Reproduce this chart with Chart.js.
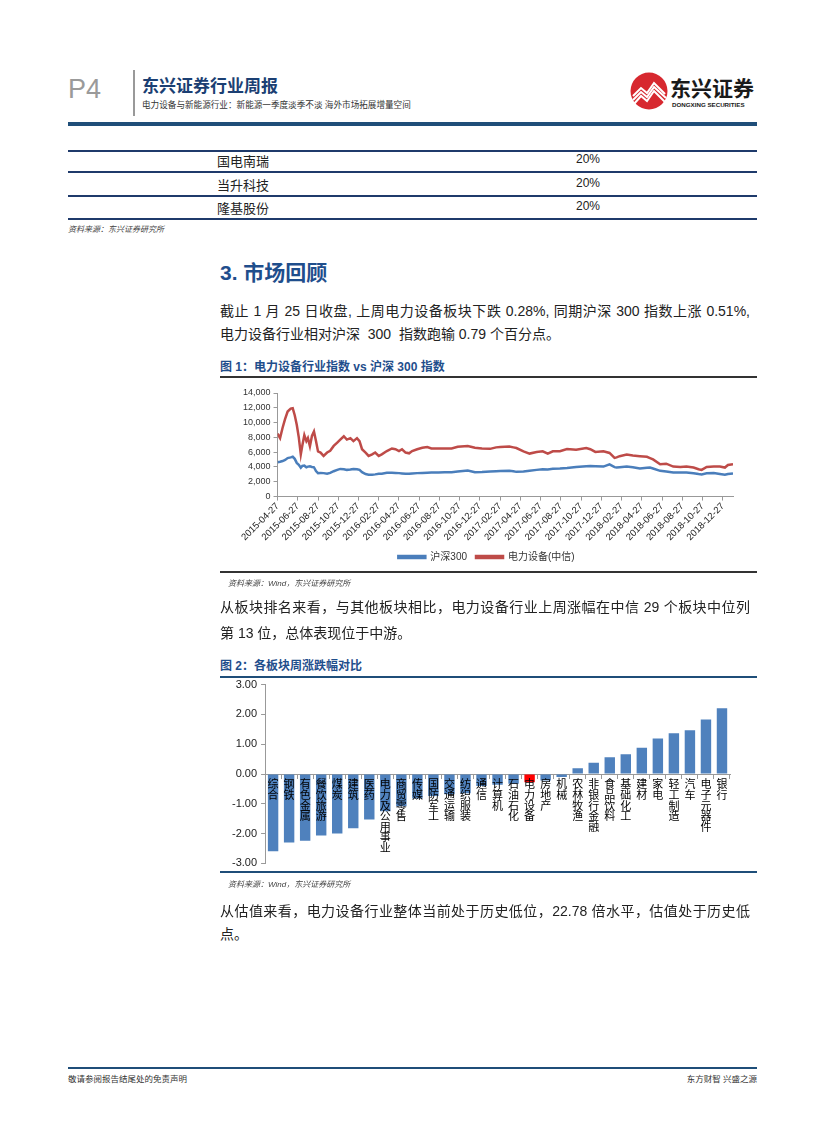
<!DOCTYPE html>
<html lang="zh-CN">
<head>
<meta charset="utf-8">
<title>东兴证券行业周报 P4</title>
<script src="https://cdn.jsdelivr.net/npm/chart.js@4.4.1/dist/chart.umd.min.js"></script>
<style>
  html, body { margin: 0; padding: 0; background: #fff; }
  body {
    width: 827px; height: 1122px; position: relative; overflow: hidden;
    font-family: "Liberation Sans", "Noto Sans CJK SC", sans-serif; color: #222;
  }
  .abs { position: absolute; white-space: nowrap; }
  .rule { position: absolute; }
  .src { font-size: 8px; font-style: italic; color: #444; }
  .para { font-size: 14px; color: #222; }
  .figtitle { font-size: 12px; font-weight: 700; color: #1F4E8C; }
  .cell { font-size: 13px; text-align: center; width: 200px; }
</style>
</head>
<body>

<!-- header -->
<div class="abs" style="left:68px;top:74px;font-size:27px;color:#9a9a9a;font-family:'Liberation Sans Narrow','Liberation Sans',sans-serif;">P4</div>
<div class="rule" style="left:133px;top:70px;width:2px;height:46px;background:#999;"></div>
<div class="abs" style="left:142px;top:72px;font-size:17px;font-weight:700;color:#1B3F73;">东兴证券行业周报</div>
<div class="abs" style="left:142px;top:98px;font-size:8.6px;color:#333;">电力设备与新能源行业：新能源一季度淡季不淡 海外市场拓展增量空间</div>
<svg class="abs" style="left:628px;top:70px" width="132" height="44" viewBox="0 0 132 44">
  <circle cx="21" cy="21" r="18.5" fill="#D7282F"/>
  <path d="M5 26 L13 18 L19 23 L26 13 L37 24" stroke="#fff" stroke-width="2" fill="none"/>
  <path d="M5 30 L13 22 L19 27 L26 17 L38 28" stroke="#fff" stroke-width="2" fill="none"/>
  <path d="M6 34 L13 26 L19 31 L26 21 L37 32" stroke="#fff" stroke-width="2" fill="none"/>
  <text x="42" y="26" font-size="21" font-weight="700" fill="#1a1a1a" font-family="Noto Sans CJK SC">东兴证券</text>
  <text x="44" y="37" font-size="6.2" font-weight="700" fill="#1a1a1a" font-family="Liberation Sans">DONGXING SECURITIES</text>
</svg>
<div class="rule" style="left:68px;top:122px;width:689px;height:4px;background:#1F4E79;"></div>

<!-- table -->
<div class="rule" style="left:68px;top:150px;width:689px;height:2px;background:#1F3A6B;"></div>
<div class="rule" style="left:68px;top:171px;width:689px;height:1.5px;background:#1F3A6B;"></div>
<div class="rule" style="left:68px;top:195px;width:689px;height:1.5px;background:#1F3A6B;"></div>
<div class="rule" style="left:68px;top:218px;width:689px;height:2px;background:#1F3A6B;"></div>
<div class="abs cell" style="left:143px;top:151px;">国电南瑞</div>
<div class="abs cell" style="left:488px;top:152px;font-size:12px;">20%</div>
<div class="abs cell" style="left:143px;top:175px;">当升科技</div>
<div class="abs cell" style="left:488px;top:176px;font-size:12px;">20%</div>
<div class="abs cell" style="left:143px;top:198px;">隆基股份</div>
<div class="abs cell" style="left:488px;top:199px;font-size:12px;">20%</div>
<div class="abs src" style="left:68px;top:223px;">资料来源：东兴证券研究所</div>

<!-- section -->
<div class="abs" style="left:220px;top:256px;font-size:21px;font-weight:700;color:#1F4E8C;">3. 市场回顾</div>
<div class="abs para" style="left:220px;top:300px;width:530px;text-align:justify;text-align-last:justify;">截止 1 月 25 日收盘, 上周电力设备板块下跌 0.28%, 同期沪深 300 指数上涨 0.51%,</div>
<div class="abs para" style="left:220px;top:323px;">电力设备行业相对沪深 &nbsp;300 &nbsp;指数跑输 0.79 个百分点。</div>

<!-- figure 1 -->
<div class="abs figtitle" style="left:220px;top:357px;">图 1：电力设备行业指数 vs 沪深 300 指数</div>
<div class="rule" style="left:220px;top:376px;width:537px;height:2px;background:#333;"></div>
<canvas id="lineChart" class="abs" style="left:220px;top:380px;" width="537" height="192"></canvas>
<div class="rule" style="left:220px;top:571px;width:537px;height:2px;background:#333;"></div>
<div class="abs src" style="left:228px;top:577px;">资料来源：Wind，东兴证券研究所</div>

<div class="abs para" style="left:220px;top:596px;width:530px;text-align:justify;text-align-last:justify;">从板块排名来看，与其他板块相比，电力设备行业上周涨幅在中信 29 个板块中位列</div>
<div class="abs para" style="left:220px;top:622px;">第 13 位，总体表现位于中游。</div>

<!-- figure 2 -->
<div class="abs figtitle" style="left:220px;top:656px;">图 2：各板块周涨跌幅对比</div>
<div class="rule" style="left:220px;top:676px;width:537px;height:2px;background:#1F4E79;"></div>
<canvas id="barChart" class="abs" style="left:220px;top:674px;" width="537" height="200"></canvas>
<div class="rule" style="left:220px;top:871px;width:537px;height:2px;background:#1F4E79;"></div>
<div class="abs src" style="left:228px;top:878px;">资料来源：Wind，东兴证券研究所</div>

<div class="abs para" style="left:220px;top:900px;width:530px;text-align:justify;text-align-last:justify;">从估值来看，电力设备行业整体当前处于历史低位，22.78 倍水平，估值处于历史低</div>
<div class="abs para" style="left:220px;top:923px;">点。</div>

<!-- footer -->
<div class="rule" style="left:68px;top:1067px;width:689px;height:2px;background:#1F4E79;"></div>
<div class="abs" style="left:68px;top:1072px;font-size:8.5px;color:#333;">敬请参阅报告结尾处的免责声明</div>
<div class="abs" style="left:657px;top:1072px;width:100px;text-align:right;font-size:8.5px;color:#333;">东方财智 兴盛之源</div>

<script>
// figure 1: months since 2015-04-27, index levels
const monthIdx = [
  0, 0.25, 0.5, 0.75, 1.0, 1.3, 1.5, 1.7, 1.9, 2.1, 2.3, 2.45, 2.65, 2.85, 3.0, 3.2, 3.4, 3.6, 3.8, 4.0,
  4.25, 4.55, 4.9, 5.2, 5.55, 5.9, 6.2, 6.55, 6.85, 7.2, 7.5, 7.85, 8.1, 8.35, 8.7, 9.0, 9.35, 9.65, 10.0, 10.3,
  10.8, 11.3, 11.65, 12.0, 12.3, 12.65, 13.0, 13.3, 13.8, 14.3, 14.8, 15.2, 15.9, 16.5, 17.2, 17.8, 18.8, 19.5, 20.2, 21.0,
  21.6, 22.0, 22.9, 23.3, 23.6, 24.3, 24.9, 25.6, 26.2, 26.7, 27.2, 27.9, 28.6, 29.5, 30.5, 30.9, 31.4, 32.2, 32.8, 33.3,
  33.5, 33.8, 34.5, 35.1, 35.8, 36.5, 36.8, 37.1, 37.8, 38.4, 39.1, 39.8, 40.4, 41.1, 41.6, 41.9, 42.4, 43.1, 43.7, 44.2,
  44.5, 45.0
];
const hs300 = [
  4650, 4700, 4800, 4950, 5200, 5300, 5380, 5100, 4550, 4300, 3900, 4150, 4180, 3960, 4050, 4090, 4000, 3960, 3450, 3170,
  3200, 3170, 3080, 3200, 3430, 3600, 3740, 3700, 3610, 3650, 3740, 3700, 3610, 3300, 3050, 2950, 2950, 3000, 3080, 3100,
  3210, 3210, 3200, 3170, 3130, 3080, 3080, 3120, 3170, 3200, 3230, 3260, 3260, 3280, 3300, 3380, 3520, 3300, 3320, 3390,
  3420, 3450, 3480, 3420, 3340, 3380, 3500, 3610, 3700, 3650, 3760, 3790, 3870, 4010, 4100, 4140, 4100, 4050, 4360, 3980,
  3920, 3960, 4050, 3950, 3790, 3900, 3920, 3800, 3480, 3400, 3260, 3260, 3250, 3150, 3040, 3000, 3150, 3170, 3050, 2950,
  3050, 3130
];
const powerEquip = [
  8500, 7900, 9300, 10500, 11500, 11900, 11950, 11000, 9700, 8000, 5700, 6900, 8300, 7500, 7900, 6800, 8200, 8800, 7500, 6100,
  5950, 5500, 5950, 6200, 6850, 7300, 7700, 8150, 7700, 7900, 7500, 7900, 7500, 6400, 5950, 5500, 5700, 5950, 5500, 5700,
  6150, 6500, 6400, 6150, 6400, 5950, 5850, 6150, 6400, 6600, 6690, 6500, 6500, 6510, 6510, 6740, 6830, 6600, 6510, 6450,
  6650, 6690, 6780, 6650, 6560, 6120, 5810, 6030, 6120, 5810, 6120, 6120, 6430, 6340, 6560, 6400, 6030, 6120, 5900, 5240,
  5300, 5460, 5680, 5550, 5460, 5370, 5200, 5020, 4360, 4450, 4050, 4010, 4050, 3920, 3700, 3610, 4010, 4050, 4050, 3920,
  4270, 4360
];
const dateLabels = [
  '2015-04-27', '2015-06-27', '2015-08-27', '2015-10-27', '2015-12-27', '2016-02-27', '2016-04-27', '2016-06-27',
  '2016-08-27', '2016-10-27', '2016-12-27', '2017-02-27', '2017-04-27', '2017-06-27', '2017-08-27', '2017-10-27',
  '2017-12-27', '2018-02-27', '2018-04-27', '2018-06-27', '2018-08-27', '2018-10-27', '2018-12-27'
];

// figure 2: weekly change by sector (%)
const sectors = [
  '综合', '钢铁', '有色金属', '餐饮旅游', '煤炭', '建筑', '医药', '电力及公用事业', '商贸零售', '传媒',
  '国防军工', '交通运输', '纺织服装', '通信', '计算机', '石油石化', '电力设备', '房地产', '机械', '农林牧渔',
  '非银行金融', '食品饮料', '基础化工', '建材', '家电', '轻工制造', '汽车', '电子元器件', '银行'
];
const weeklyChange = [
  -2.59, -2.30, -2.24, -2.06, -2.00, -1.82, -1.53, -1.25, -1.08, -0.82,
  -0.74, -0.68, -0.65, -0.40, -0.36, -0.33, -0.28, -0.22, -0.10, 0.19,
  0.38, 0.56, 0.66, 0.88, 1.19, 1.37, 1.47, 1.83, 2.21
];
const highlightSector = '电力设备';

const BLUE = '#4A7EBB';
const RED = '#BE4B48';
const AXIS = '#999';

const toPoints = vals => monthIdx.map((m, i) => ({ x: m, y: vals[i] }));

new Chart(document.getElementById('lineChart'), {
  type: 'line',
  data: {
    datasets: [
      { label: '沪深300', data: toPoints(hs300), borderColor: BLUE, backgroundColor: BLUE,
        borderWidth: 2.5, pointRadius: 0, tension: 0 },
      { label: '电力设备(中信)', data: toPoints(powerEquip), borderColor: RED, backgroundColor: RED,
        borderWidth: 2.5, pointRadius: 0, tension: 0 }
    ]
  },
  options: {
    responsive: false,
    animation: false,
    layout: { padding: { left: 20, right: 24, top: 13, bottom: 0 } },
    plugins: {
      tooltip: { enabled: false },
      legend: {
        position: 'bottom',
        labels: { boxWidth: 27, boxHeight: 2, padding: 9, color: '#333',
          font: { size: 10, family: "'Liberation Sans','Noto Sans CJK SC',sans-serif" } }
      }
    },
    scales: {
      x: {
        type: 'linear', min: 0, max: 45,
        // one tick every two months, labelled from dateLabels
        afterBuildTicks: s => { s.ticks = dateLabels.map((_, i) => ({ value: i * 2 })); },
        ticks: { autoSkip: false, maxRotation: 45, minRotation: 45, padding: 0, color: '#222',
          font: { size: 9.5, family: "'Liberation Sans',sans-serif" },
          callback: v => dateLabels[v / 2] },
        grid: { drawOnChartArea: false, tickLength: 4, color: AXIS },
        border: { color: AXIS }
      },
      y: {
        min: 0, max: 14000,
        ticks: { stepSize: 2000, color: '#333', padding: 3,
          font: { size: 9, family: "'Liberation Sans',sans-serif" },
          callback: v => v.toLocaleString('en-US') },
        grid: { drawOnChartArea: false, tickLength: 4, color: AXIS },
        border: { color: AXIS }
      }
    }
  }
});

new Chart(document.getElementById('barChart'), {
  type: 'bar',
  data: {
    labels: sectors.map(s => Array.from(s)),
    datasets: [{
      data: weeklyChange,
      backgroundColor: sectors.map(s => s === highlightSector ? '#FF0000' : '#4F81BD'),
      barPercentage: 0.65,
      categoryPercentage: 1
    }]
  },
  options: {
    responsive: false,
    animation: false,
    layout: { padding: { left: 8, right: 27, top: 0, bottom: 4 } },
    plugins: { legend: { display: false }, tooltip: { enabled: false } },
    scales: {
      x: {
        position: { y: 0 },
        ticks: { z: 1, autoSkip: false, maxRotation: 0, minRotation: 0, padding: 1, color: '#000',
          font: { size: 11, lineHeight: 0.96, family: "'Noto Sans CJK SC',sans-serif" } },
        grid: { offset: true, drawOnChartArea: false, tickLength: 4, color: AXIS },
        border: { color: AXIS }
      },
      y: {
        min: -3, max: 3,
        ticks: { stepSize: 1, color: '#222', padding: 4,
          font: { size: 11, family: "'Liberation Sans',sans-serif" },
          callback: v => v.toFixed(2) },
        grid: { drawOnChartArea: false, tickLength: 4, color: AXIS },
        border: { color: AXIS }
      }
    }
  }
});
</script>
</body>
</html>
